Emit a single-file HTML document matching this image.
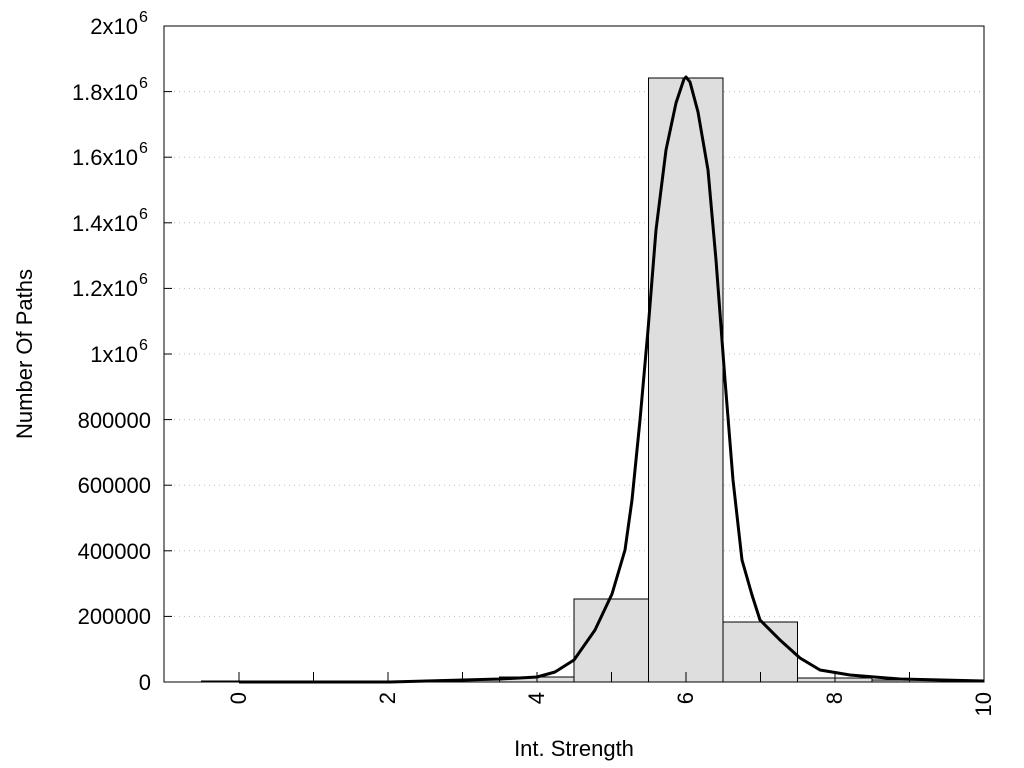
<!DOCTYPE html>
<html><head><style>body{margin:0;background:#fff}svg{display:block}text{font-family:"Liberation Sans",sans-serif;fill:#000}</style></head><body>
<svg width="1024" height="768" xmlns="http://www.w3.org/2000/svg">
<g stroke="#bbb" stroke-dasharray="1,4" stroke-width="1">
<line x1="164" x2="984" y1="616.4" y2="616.4"/><line x1="164" x2="984" y1="550.8" y2="550.8"/><line x1="164" x2="984" y1="485.2" y2="485.2"/><line x1="164" x2="984" y1="419.6" y2="419.6"/><line x1="164" x2="984" y1="354" y2="354"/><line x1="164" x2="984" y1="288.4" y2="288.4"/><line x1="164" x2="984" y1="222.8" y2="222.8"/><line x1="164" x2="984" y1="157.2" y2="157.2"/><line x1="164" x2="984" y1="91.6" y2="91.6"/>
</g>
<g fill="#dedede" stroke="#000" stroke-width="1">
<rect x="201.5" y="681" width="74.5" height="1"/>
<rect x="276" y="681" width="74.5" height="1"/>
<rect x="350.5" y="681" width="74.5" height="1"/>
<rect x="425" y="680" width="74.5" height="2"/>
<rect x="499.5" y="677" width="74.5" height="5"/>
<rect x="574" y="599" width="74.5" height="83"/>
<rect x="648.5" y="78" width="74.5" height="604"/>
<rect x="723" y="622" width="74.5" height="60"/>
<rect x="797.5" y="678" width="74.5" height="4"/>
<rect x="872" y="680" width="74.5" height="2"/>
</g>
<polyline fill="none" stroke="#000" stroke-width="3" stroke-linejoin="round" points="239,682 390,682 463,680 500,679 537,677 555,672 574,660 595,630 612,594 625,550 632,500 640,420 648,330 656,230 666,150 676,103 684,79 686,77 690,82 698,112 708,170 716,260 725,380 733,480 742,560 752,595 760,620 780,640 800,658 820,670 850,675 900,679 984,681"/>
<rect x="164" y="26" width="820" height="656" fill="none" stroke="#000" stroke-width="1"/>
<g stroke="#000" stroke-width="1">
<line x1="239" x2="239" y1="682" y2="672"/><line x1="313.5" x2="313.5" y1="682" y2="672"/><line x1="388" x2="388" y1="682" y2="672"/><line x1="462.5" x2="462.5" y1="682" y2="672"/><line x1="537" x2="537" y1="682" y2="672"/><line x1="611.5" x2="611.5" y1="682" y2="672"/><line x1="686" x2="686" y1="682" y2="672"/><line x1="760.5" x2="760.5" y1="682" y2="672"/><line x1="835" x2="835" y1="682" y2="672"/><line x1="909.5" x2="909.5" y1="682" y2="672"/>
<line x1="164" x2="172" y1="616.4" y2="616.4"/><line x1="164" x2="172" y1="550.8" y2="550.8"/><line x1="164" x2="172" y1="485.2" y2="485.2"/><line x1="164" x2="172" y1="419.6" y2="419.6"/><line x1="164" x2="172" y1="354" y2="354"/><line x1="164" x2="172" y1="288.4" y2="288.4"/><line x1="164" x2="172" y1="222.8" y2="222.8"/><line x1="164" x2="172" y1="157.2" y2="157.2"/><line x1="164" x2="172" y1="91.6" y2="91.6"/>
</g>
<g font-size="22" text-anchor="end">
<text x="151" y="690">0</text><text x="151" y="624">200000</text><text x="151" y="559">400000</text><text x="151" y="493">600000</text><text x="151" y="428">800000</text>
<text x="138" y="362">1x10</text><text x="138" y="296">1.2x10</text><text x="138" y="231">1.4x10</text><text x="138" y="165">1.6x10</text><text x="138" y="100">1.8x10</text><text x="138" y="34">2x10</text>
</g>
<g font-size="16">
<text x="139" y="350">6</text><text x="139" y="284">6</text><text x="139" y="219">6</text><text x="139" y="153">6</text><text x="139" y="88">6</text><text x="139" y="22">6</text>
</g>
<g font-size="22" text-anchor="end">
<text transform="translate(246,692) rotate(-90)">0</text>
<text transform="translate(395,692) rotate(-90)">2</text>
<text transform="translate(544,692) rotate(-90)">4</text>
<text transform="translate(693,692) rotate(-90)">6</text>
<text transform="translate(842,692) rotate(-90)">8</text>
<text transform="translate(991,692) rotate(-90)">10</text>
</g>
<text x="574" y="756" font-size="22" text-anchor="middle">Int. Strength</text>
<text transform="translate(32,354) rotate(-90)" font-size="22" text-anchor="middle">Number Of Paths</text>
</svg>
</body></html>
